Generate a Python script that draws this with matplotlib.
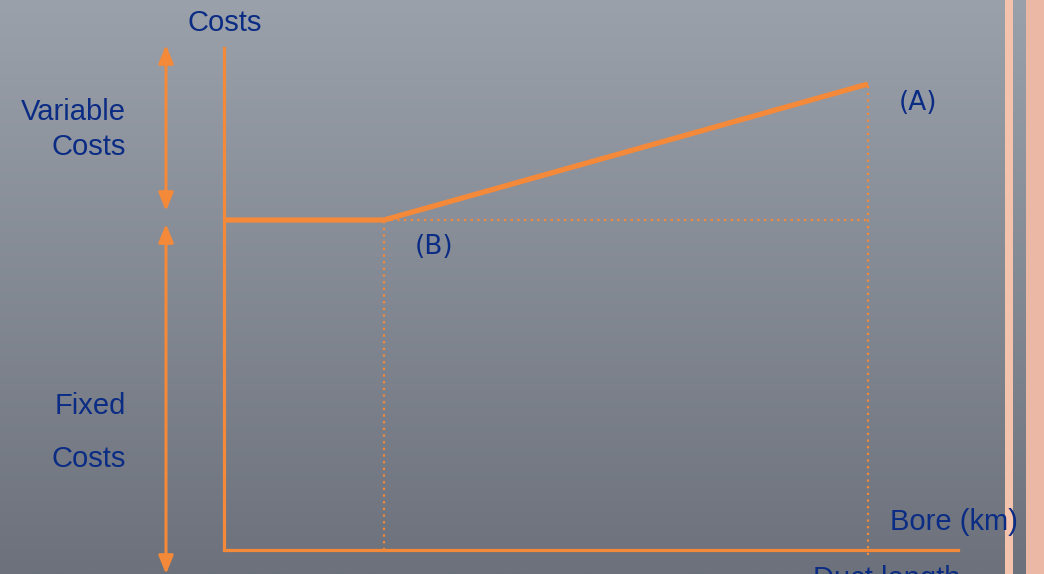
import numpy as np
import matplotlib.pyplot as plt

# cost curve: duct length (km) vs costs
length = [0, 2, 8.05]
costs = [3.3, 3.3, 4.66]
fixed_cost = 3.3
x_max = 9.175
y_max = 5.02

orange = "#f5893a"
navy = "#0b2c84"

fig = plt.figure(figsize=(10.44, 5.74), dpi=100)

# background gradient
bg = fig.add_axes([0, 0, 1, 1], zorder=0)
grad = np.linspace(0, 1, 256).reshape(-1, 1)
top = np.array([0x9b, 0xa1, 0xaa]) / 255
bot = np.array([0x6c, 0x71, 0x7b]) / 255
img = top + (bot - top) * grad[:, :, None]
bg.imshow(img, aspect="auto", extent=[0, 1044, 574, 0])
bg.set_xlim(0, 1044)
bg.set_ylim(574, 0)
bg.axis("off")
# right border stripes
bg.axvspan(1005, 1013, color="#f4c3ae", lw=0)
bg.axvspan(1026, 1044, color="#ecb8a6", lw=0)

# main chart
ax = fig.add_axes([224 / 1044, 24 / 574, 734 / 1044, 502 / 574], zorder=2)
ax.patch.set_alpha(0)
ax.set_xlim(0, x_max)
ax.set_ylim(0, y_max)
for s in ["top", "right"]:
    ax.spines[s].set_visible(False)
for s in ["left", "bottom"]:
    ax.spines[s].set_color(orange)
    ax.spines[s].set_linewidth(2.3)
ax.set_xticks([])
ax.set_yticks([])

ax.plot(length, costs, color=orange, lw=3.8, solid_capstyle="butt", clip_on=False)
ax.plot([length[1], length[2]], [fixed_cost, fixed_cost], color=orange, lw=1.6, ls=(0, (1, 2)))
ax.plot([length[1], length[1]], [0, fixed_cost], color=orange, lw=1.6, ls=(0, (1, 2)))
ax.plot([length[2], length[2]], [-0.05, costs[2]], color=orange, lw=1.6, ls=(0, (1, 2)), clip_on=False)

ax.text(length[2] + 0.38, costs[2] - 0.19, "(A)", color=navy, fontsize=19,
        family="DejaVu Sans", ha="left", va="center")
ax.text(length[1] + 0.38, fixed_cost - 0.27, "(B)", color=navy, fontsize=19,
        family="DejaVu Sans", ha="left", va="center")

# overlay for labels and arrows (pixel coords)
ov = fig.add_axes([0, 0, 1, 1], zorder=3)
ov.patch.set_alpha(0)
ov.set_xlim(0, 1044)
ov.set_ylim(574, 0)
ov.axis("off")

font = dict(color=navy, fontsize=21, family="Liberation Sans")
ov.text(225, 23, "Costs", ha="center", va="center", **font)
ov.text(126, 112, "Variable", ha="right", va="center", **font)
ov.text(126, 147, "Costs", ha="right", va="center", **font)
ov.text(126, 406, "Fixed", ha="right", va="center", **font)
ov.text(126, 459, "Costs", ha="right", va="center", **font)
ov.text(1018, 522, "Bore (km)", ha="right", va="center", **font)
ov.text(813, 579, "Duct length", ha="left", va="center", clip_on=False, **font)

arrow = dict(arrowstyle="<|-|>,head_length=1.1,head_width=0.45", color=orange, lw=2.2,
             shrinkA=0, shrinkB=0)
ov.annotate("", xy=(166, 45), xytext=(166, 211), arrowprops=arrow)
ov.annotate("", xy=(166, 224), xytext=(166, 574), arrowprops=arrow)

fig.savefig("out.png", dpi=100)
